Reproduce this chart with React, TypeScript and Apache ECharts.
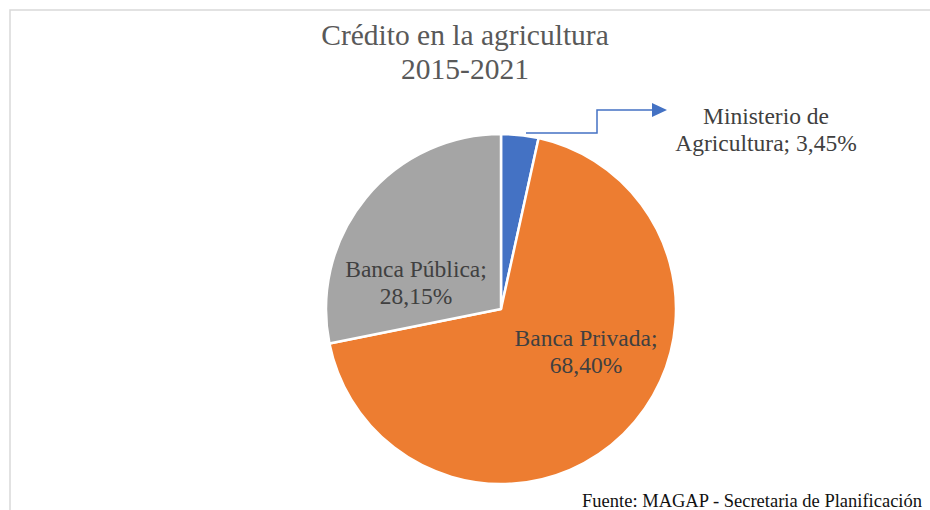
import React, { useEffect, useRef } from "react";
import * as echarts from "echarts";

const categories = ["Ministerio de Agricultura", "Banca Privada", "Banca Pública"];
const values = [3.45, 68.4, 28.15];
const valueLabels = ["3,45%", "68,40%", "28,15%"];
const colors = ["#4472C4", "#ED7D31", "#A5A5A5"];
const titleLines = ["Crédito en la agricultura", "2015-2021"];
const sourceNote = "Fuente: MAGAP - Secretaria de Planificación";

const FONT = "'Liberation Serif', 'Times New Roman', serif";

export default function App() {
  const ref = useRef<HTMLDivElement>(null);
  useEffect(() => {
    if (!ref.current) return;
    const chart = echarts.init(ref.current, undefined, { renderer: "svg" });
    const labelPos: Record<number, [number, number]> = {
      0: [766, 129],
      1: [586, 351],
      2: [416, 282],
    };
    chart.setOption({
      animation: false,
      backgroundColor: "#ffffff",
      title: {
        text: titleLines.join("\n"),
        left: 460,
        top: 13,
        textAlign: "center",
        textStyle: {
          fontFamily: FONT,
          fontSize: 29.5,
          lineHeight: 34,
          fontWeight: "normal",
          color: "#595959",
        },
      },
      graphic: [
        {
          type: "rect",
          shape: { x: 10, y: 10, width: 960, height: 540 },
          style: { fill: "none", stroke: "#d9d9d9", lineWidth: 1.5 },
          silent: true,
        },
        {
          type: "polyline",
          shape: { points: [[526, 133], [597, 133], [597, 110], [655, 110]] },
          style: { fill: "none", stroke: "#4472C4", lineWidth: 1.5 },
          z: 10,
        },
        {
          type: "polygon",
          shape: { points: [[652, 103], [667, 110], [652, 117]] },
          style: { fill: "#4472C4" },
          z: 10,
        },
        {
          type: "text",
          x: 922,
          y: 501,
          style: {
            text: sourceNote,
            fontFamily: FONT,
            fontSize: 18.5,
            fill: "#111111",
            align: "right",
            verticalAlign: "middle",
          },
        },
      ],
      series: [
        {
          type: "pie",
          center: [501, 309],
          radius: 175,
          startAngle: 90,
          clockwise: true,
          label: {
            show: true,
            position: "inside",
            fontFamily: FONT,
            fontSize: 23.5,
            lineHeight: 27,
            color: "#404040",
            formatter: (p: any) => {
              if (p.dataIndex === 0) return "Ministerio de\nAgricultura; " + valueLabels[0];
              return p.name + ";\n" + valueLabels[p.dataIndex];
            },
          },
          labelLine: { show: false },
          labelLayout: (params: any) => {
            const pos = labelPos[params.dataIndex];
            return { x: pos[0], y: pos[1], align: "center", verticalAlign: "middle" };
          },
          itemStyle: { borderColor: "#ffffff", borderWidth: 2.5 },
          emphasis: { disabled: true },
          data: categories.map((c, i) => ({
            name: c,
            value: values[i],
            itemStyle: { color: colors[i] },
          })),
        },
      ],
    });
    return () => chart.dispose();
  }, []);
  return (
    <div
      ref={ref}
      style={{ position: "fixed", left: 0, top: 0, width: 930, height: 510 }}
    />
  );
}
